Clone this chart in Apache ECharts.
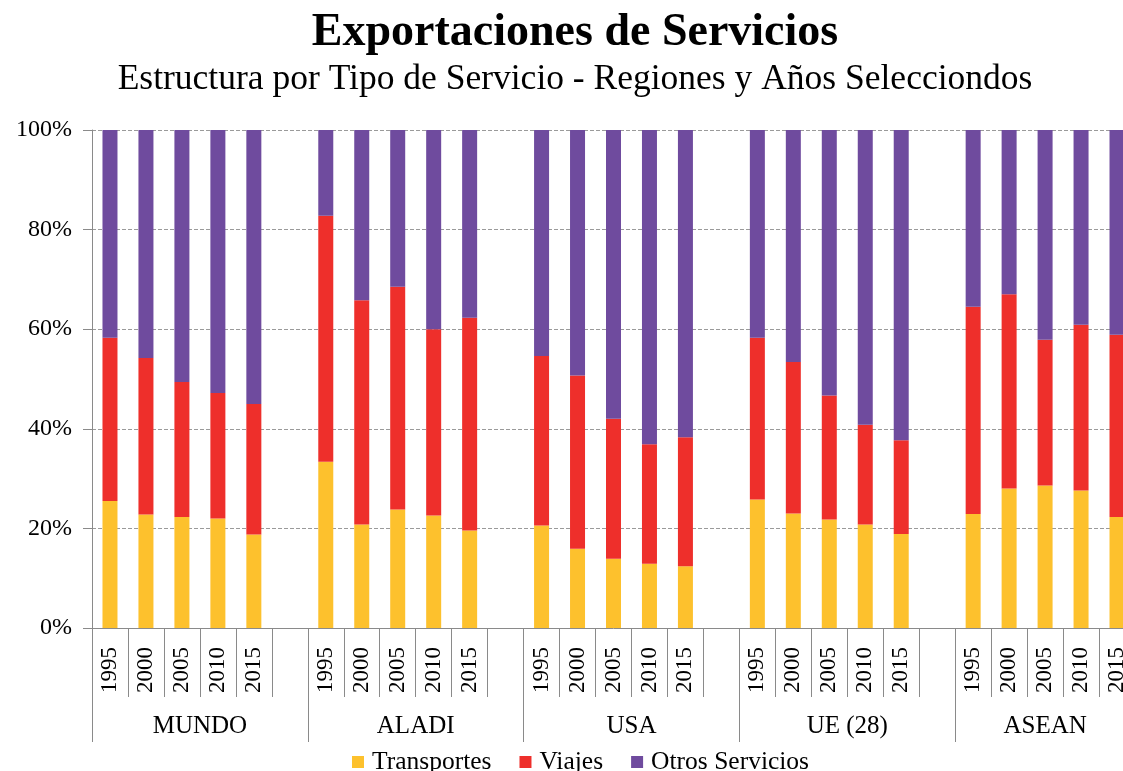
<!DOCTYPE html>
<html>
<head>
<meta charset="utf-8">
<script src="https://cdn.jsdelivr.net/npm/echarts@6/dist/echarts.min.js"></script>
<style>
html,body{margin:0;padding:0;background:#fff;overflow:hidden;width:1123px;height:771px;}
#chart{width:1135px;height:771px;}
</style>
</head>
<body>
<div id="chart"></div>
<script>
// ---- data ----
const regions = ['MUNDO', 'ALADI', 'USA', 'UE (28)', 'ASEAN'];
const years = ['1995', '2000', '2005', '2010', '2015'];
const seriesNames = ['Transportes', 'Viajes', 'Otros Servicios'];
const transportes = [25.5, 22.8, 22.3, 22.0, 18.8,  33.4, 20.8, 23.8, 22.6, 19.6,  20.6, 15.9, 13.9, 12.9, 12.4,  25.8, 23.0, 21.8, 20.8, 18.9,  22.9, 28.0, 28.6, 27.6, 22.3];
const viajes      = [32.8, 31.4, 27.1, 25.2, 26.2,  49.4, 45.0, 44.7, 37.4, 42.7,  34.0, 34.8, 28.1, 24.0, 25.9,  32.5, 30.4, 24.9, 20.0, 18.8,  41.6, 39.0, 29.3, 33.3, 36.6];
const otros       = [41.7, 45.8, 50.6, 52.8, 55.0,  17.2, 34.2, 31.5, 40.0, 37.7,  45.4, 49.3, 58.0, 63.1, 61.7,  41.7, 46.6, 53.3, 59.2, 62.3,  35.5, 33.0, 42.1, 39.1, 41.1];

// ---- build slot layout (5 years + one blank slot per region, except the last) ----
const categories = [];
const slotIndex = [];
regions.forEach((r, ri) => {
  years.forEach((y) => { slotIndex.push(categories.length); categories.push(y); });
  if (ri < regions.length - 1) categories.push('');
});
function toSlots(vals) {
  const arr = categories.map(() => '-');
  vals.forEach((v, i) => { arr[slotIndex[i]] = v; });
  return arr;
}
// second-level axis on half-slot positions
const nSlots = categories.length;
const halfCats = [];
for (let i = 0; i <= nSlots * 2; i++) halfCats.push('');
const groupTickPos = [];
const groupLabelPos = {};
let pos = 0;
regions.forEach((r, ri) => {
  const w = ri < regions.length - 1 ? years.length + 1 : years.length;
  groupTickPos.push(pos * 2);
  groupLabelPos[pos * 2 + w] = r;
  pos += w;
});
groupTickPos.push(pos * 2);
Object.keys(groupLabelPos).forEach(k => { halfCats[+k] = groupLabelPos[k]; });

const colors = ['#FDC12D', '#EE2F2B', '#6F4B9E'];
const font = 'Liberation Serif, Times New Roman, serif';

const chart = echarts.init(document.getElementById('chart'), null, {renderer: 'canvas'});
const option = {
  backgroundColor: '#fff',
  animation: false,
  color: colors,
  title: [
    {text: 'Exportaciones de Servicios', left: 575, top: 10, padding: 0, textAlign: 'center',
     textStyle: {fontFamily: font, fontSize: 46, fontWeight: 'bold', color: '#000'}},
    {text: 'Estructura por Tipo de Servicio - Regiones y Años Selecciondos', left: 575, top: 62, padding: 0, textAlign: 'center',
     textStyle: {fontFamily: font, fontSize: 35.5, fontWeight: 'normal', color: '#000'}}
  ],
  legend: {
    data: seriesNames, left: 352, top: 749, padding: 0,
    icon: 'rect', itemWidth: 12, itemHeight: 12, itemGap: 28,
    textStyle: {fontFamily: font, fontSize: 25.5, color: '#000', padding: [0, 0, 0, 3]}
  },
  grid: {left: 92, top: 130, height: 498, right: 0, containLabel: false},
  xAxis: [
    {
      type: 'category', data: categories, position: 'bottom',
      axisLine: {show: true, lineStyle: {color: '#8a8a8a', width: 1}},
      axisTick: {show: true, interval: 0, alignWithLabel: false, length: 69, lineStyle: {color: '#8a8a8a'}},
      axisLabel: {interval: 0, rotate: 90, margin: 19, fontFamily: font, fontSize: 23, color: '#000'},
      splitLine: {show: false}
    },
    {
      type: 'category', data: halfCats, position: 'bottom', boundaryGap: false,
      axisLine: {show: false},
      axisTick: {show: true, length: 114, lineStyle: {color: '#8a8a8a'},
        interval: function (idx) { return groupTickPos.indexOf(idx) >= 0; }},
      axisLabel: {margin: 86, fontFamily: font, fontSize: 25, color: '#000',
        interval: function (idx) { return groupLabelPos[idx] !== undefined; }},
      splitLine: {show: false}
    }
  ],
  yAxis: {
    type: 'value', min: 0, max: 100, interval: 20,
    axisLine: {show: true, lineStyle: {color: '#8a8a8a'}},
    axisTick: {show: true, length: 9, lineStyle: {color: '#8a8a8a'}},
    axisLabel: {formatter: '{value}%', margin: 20, fontFamily: font, fontSize: 24, color: '#000'},
    splitLine: {show: true, lineStyle: {color: '#9a9a9a', type: [4, 2], width: 1}}
  },
  series: [
    {name: seriesNames[0], type: 'bar', stack: 'total', barWidth: 15, data: toSlots(transportes), xAxisIndex: 0},
    {name: seriesNames[1], type: 'bar', stack: 'total', barWidth: 15, data: toSlots(viajes), xAxisIndex: 0},
    {name: seriesNames[2], type: 'bar', stack: 'total', barWidth: 15, data: toSlots(otros), xAxisIndex: 0}
  ]
};
chart.setOption(option);
</script>
</body>
</html>
